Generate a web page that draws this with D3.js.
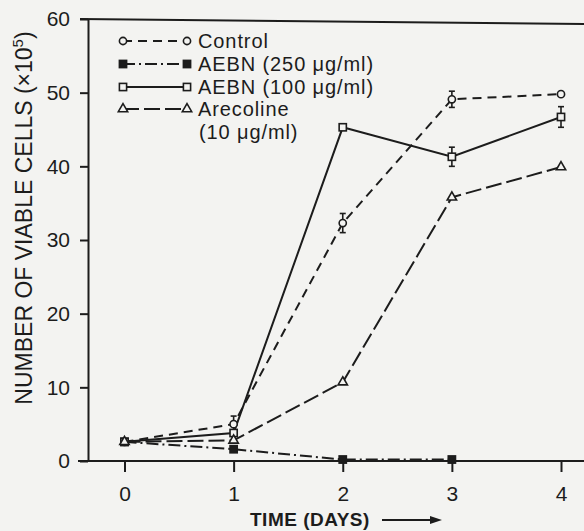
<!DOCTYPE html>
<html><head><meta charset="utf-8">
<script src="https://cdn.jsdelivr.net/npm/d3@7"></script>
<style>body{margin:0;background:#f3f3f1}svg{display:block}</style>
</head><body>
<svg id="c" width="584" height="531"></svg>
<script>
// ---- data ----
const days = [0, 1, 2, 3, 4];
const control = [2.6, 5.0, 32.3, 49.1, 49.8];
const controlErr = [0, 1.1, 1.3, 1.1, 0];
const aebn250Days = [0, 1, 2, 3];
const aebn250 = [2.6, 1.6, 0.2, 0.2];
const aebn100 = [2.6, 3.8, 45.3, 41.3, 46.7];
const aebn100Err = [0, 0, 0, 1.3, 1.4];
const arecoline = [2.6, 2.8, 10.7, 35.8, 39.9];
const yTicks = [0, 10, 20, 30, 40, 50, 60];
const xTicks = [0, 1, 2, 3, 4];
const legendLabels = ["Control", "AEBN (250 μg/ml)", "AEBN (100 μg/ml)", "Arecoline"];
const legendExtra = "(10 μg/ml)";

const ink = "#1c1c1c", bg = "#f3f3f1";
const font = "'Liberation Sans', Arial, sans-serif";
const svg = d3.select("#c");
svg.append("rect").attr("width", 584).attr("height", 531).attr("fill", bg);

const x = d3.scaleLinear().domain([0, 4]).range([124.5, 561]);
const y = d3.scaleLinear().domain([0, 60]).range([461, 19]);

// axes
const ya = svg.append("g").attr("transform", "translate(88,0)")
  .call(d3.axisLeft(y).tickValues(yTicks).tickFormat(d3.format("d")).tickSize(8).tickSizeOuter(0).tickPadding(10));
ya.select(".domain").attr("stroke", ink).attr("stroke-width", 2);
ya.selectAll(".tick line").attr("stroke", ink).attr("stroke-width", 2);
ya.selectAll(".tick text").attr("fill", ink).style("font", `21px ${font}`);

const xa = svg.append("g").attr("transform", "translate(0,461)")
  .call(d3.axisBottom(x).tickValues(xTicks).tickFormat(d3.format("d")).tickSize(11).tickSizeOuter(0).tickPadding(14));
xa.select(".domain").remove();
xa.selectAll(".tick line").attr("stroke", ink).attr("stroke-width", 2);
xa.selectAll(".tick text").attr("fill", ink).style("font", `21px ${font}`);

// frame lines
svg.append("line").attr("x1", 80).attr("x2", 584).attr("y1", y(60)).attr("y2", y(60) + 5)
  .attr("stroke", ink).attr("stroke-width", 2);
svg.append("line").attr("x1", 78).attr("x2", 584).attr("y1", y(0)).attr("y2", y(0))
  .attr("stroke", ink).attr("stroke-width", 2);

// series
const series = [
  {xs: days, ys: control, err: controlErr, dash: "9,6", mark: "circle"},
  {xs: aebn250Days, ys: aebn250, err: null, dash: "12,4,2,4", mark: "fsquare"},
  {xs: days, ys: aebn100, err: aebn100Err, dash: null, mark: "square"},
  {xs: days, ys: arecoline, err: null, dash: "16,5", mark: "triangle"}
];

function drawMark(g, type, cx, cy) {
  if (type === "circle") {
    g.append("circle").attr("cx", cx).attr("cy", cy).attr("r", 3.6)
      .attr("fill", bg).attr("stroke", ink).attr("stroke-width", 1.6);
  } else if (type === "square" || type === "fsquare") {
    g.append("rect").attr("x", cx - 3.6).attr("y", cy - 3.6).attr("width", 7.2).attr("height", 7.2)
      .attr("fill", type === "fsquare" ? ink : bg).attr("stroke", ink).attr("stroke-width", 1.6);
  } else {
    g.append("path").attr("transform", `translate(${cx},${cy})`)
      .attr("d", d3.symbol(d3.symbolTriangle, 38)())
      .attr("fill", bg).attr("stroke", ink).attr("stroke-width", 1.6);
  }
}

const line = d3.line().x(d => x(d[0])).y(d => y(d[1]));
const plot = svg.append("g");
series.forEach(s => {
  const pts = s.xs.map((d, i) => [d, s.ys[i]]);
  const p = plot.append("path").attr("d", line(pts)).attr("fill", "none")
    .attr("stroke", ink).attr("stroke-width", 2);
  if (s.dash) p.attr("stroke-dasharray", s.dash);
});
series.forEach(s => {
  s.xs.forEach((d, i) => {
    if (s.err && s.err[i] > 0) {
      const cx = x(d), t = y(s.ys[i] + s.err[i]), b = y(s.ys[i] - s.err[i]);
      plot.append("line").attr("x1", cx).attr("x2", cx).attr("y1", t).attr("y2", b)
        .attr("stroke", ink).attr("stroke-width", 1.6);
      [t, b].forEach(v => plot.append("line").attr("x1", cx - 3).attr("x2", cx + 3)
        .attr("y1", v).attr("y2", v).attr("stroke", ink).attr("stroke-width", 1.6));
    }
    drawMark(plot, s.mark, x(d), y(s.ys[i]));
  });
});

// legend
const lg = svg.append("g");
const rowY = [41, 64, 87, 109];
series.forEach((s, i) => {
  const ly = rowY[i];
  const l = lg.append("line").attr("x1", 123).attr("x2", 187).attr("y1", ly).attr("y2", ly)
    .attr("stroke", ink).attr("stroke-width", 2);
  if (s.dash) l.attr("stroke-dasharray", s.dash);
  drawMark(lg, s.mark, 123, ly);
  drawMark(lg, s.mark, 187, ly);
  lg.append("text").attr("x", 198).attr("y", ly + 7).text(legendLabels[i])
    .attr("fill", ink).style("font", `20px ${font}`).style("letter-spacing", "0.9px");
});
lg.append("text").attr("x", 199).attr("y", 139).text(legendExtra)
  .attr("fill", ink).style("font", `20px ${font}`).style("letter-spacing", "0.9px");

// axis titles
const yt = svg.append("text").attr("transform", "translate(32,218) rotate(-90)")
  .attr("text-anchor", "middle").attr("fill", ink).style("font", `23px ${font}`);
yt.append("tspan").text("NUMBER OF VIABLE CELLS (×10");
yt.append("tspan").attr("dy", -9).style("font-size", "15px").text("5");
yt.append("tspan").attr("dy", 9).text(")");

svg.append("text").attr("x", 250).attr("y", 526).attr("fill", ink)
  .style("font", `bold 19px ${font}`).style("letter-spacing", "0.5px").text("TIME (DAYS)");
svg.append("line").attr("x1", 382).attr("x2", 432).attr("y1", 520).attr("y2", 520)
  .attr("stroke", ink).attr("stroke-width", 2);
svg.append("path").attr("d", "M430,516 L442,520 L430,524 Z").attr("fill", ink);
</script>
</body></html>
